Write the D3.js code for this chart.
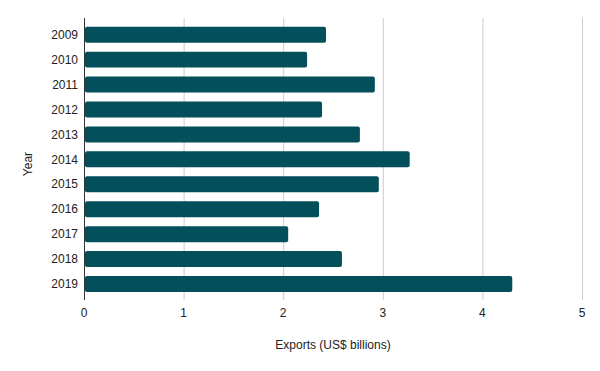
<!DOCTYPE html>
<html>
<head>
<meta charset="utf-8">
<script src="https://cdn.jsdelivr.net/npm/d3@7"></script>
<style>
  body { margin: 0; background: #fff; }
  text { font-family: "Liberation Sans", Arial, sans-serif; }
</style>
</head>
<body>
<svg width="600" height="371"></svg>
<script>
var years = ["2009", "2010", "2011", "2012", "2013", "2014", "2015", "2016", "2017", "2018", "2019"];
var exports = [2.43, 2.24, 2.92, 2.39, 2.77, 3.27, 2.96, 2.36, 2.05, 2.59, 4.30];
var xTicks = [0, 1, 2, 3, 4, 5];

var svg = d3.select("svg"),
    margin = {top: 18, right: 18, bottom: 75, left: 84},
    width = +svg.attr("width") - margin.left - margin.right,
    height = +svg.attr("height") - margin.top - margin.bottom;

var x = d3.scaleLinear().domain([0, 5]).range([0, width]);
var y = d3.scaleBand().domain(years).range([8.7, 274])
    .paddingInner(0.36).paddingOuter(0);

var g = svg.append("g")
    .attr("transform", "translate(" + margin.left + "," + margin.top + ")");

// gridlines (extend a little below the plot as ticks)
g.selectAll("line.grid")
    .data(xTicks.slice(1))
    .enter().append("line")
    .attr("class", "grid")
    .attr("x1", function(d) { return x(d) + 0.5; })
    .attr("x2", function(d) { return x(d) + 0.5; })
    .attr("y1", 0)
    .attr("y2", height + 4)
    .attr("stroke", "#cccccc")
    .attr("stroke-width", 1);

g.selectAll("rect.bar")
    .data(years)
    .enter().append("rect")
    .attr("class", "bar")
    .attr("x", x(0) + 1)
    .attr("y", function(d) { return y(d); })
    .attr("width", function(d, i) { return x(exports[i]) - x(0) - 1; })
    .attr("height", y.bandwidth())
    .attr("rx", 2)
    .attr("fill", "#034f5b");

// left axis line
g.append("line")
    .attr("x1", 0.5).attr("x2", 0.5)
    .attr("y1", 0).attr("y2", height + 4)
    .attr("stroke", "#333")
    .attr("stroke-width", 1);

g.selectAll("text.ylab")
    .data(years)
    .enter().append("text")
    .attr("class", "ylab")
    .attr("x", -6)
    .attr("y", function(d) { return y(d) + y.bandwidth() / 2; })
    .attr("dy", "0.35em")
    .attr("text-anchor", "end")
    .attr("font-size", 12)
    .attr("fill", "#222")
    .text(function(d) { return d; });

g.selectAll("text.xlab")
    .data(xTicks)
    .enter().append("text")
    .attr("class", "xlab")
    .attr("x", function(d) { return x(d); })
    .attr("y", height + 21)
    .attr("text-anchor", "middle")
    .attr("font-size", 12)
    .attr("fill", "#222")
    .text(function(d) { return d; });

svg.append("text")
    .attr("x", margin.left + width / 2)
    .attr("y", 349)
    .attr("text-anchor", "middle")
    .attr("font-size", 12)
    .attr("fill", "#222")
    .text("Exports (US$ billions)");

svg.append("text")
    .attr("transform", "translate(32,164) rotate(-90)")
    .attr("text-anchor", "middle")
    .attr("font-size", 12)
    .attr("fill", "#222")
    .text("Year");
</script>
</body>
</html>
